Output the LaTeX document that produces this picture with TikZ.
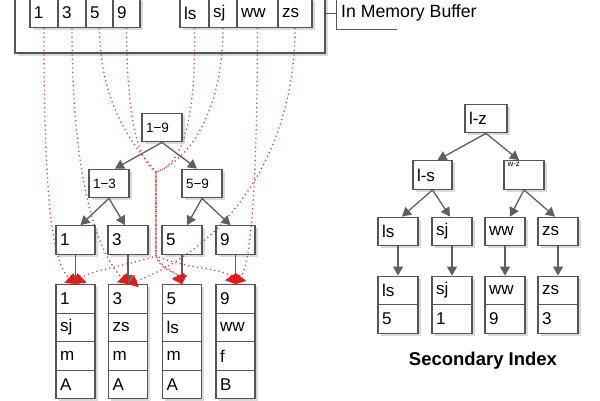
\documentclass[tikz,border=0pt]{standalone}
\usepackage{fontspec}
\setmainfont{Liberation Sans}
\usetikzlibrary{arrows.meta,shadows}
\definecolor{boxc}{HTML}{555555}
\definecolor{arrc}{HTML}{5F5F5F}
\definecolor{dotc}{HTML}{DD3C3C}
\definecolor{redhead}{HTML}{EE1515}
\begin{document}
\begin{tikzpicture}[x=1pt,y=-1pt,
  shad/.style={drop shadow={shadow xshift=2.5pt,shadow yshift=-2.5pt,fill=black!15,opacity=1}},
  box/.style={draw=boxc, line width=1.3pt, fill=white, shad, inner xsep=4pt, inner ysep=0pt,
    align=left, minimum height=28.5pt, font=\fontsize{17}{18}\selectfont, text width=#1},
  box/.default=31pt,
  small/.style={font=\fontsize{13.5}{14}\selectfont},
  arr/.style={draw=arrc, line width=1.3pt, -{Triangle[length=9pt,width=10pt]}},
  dotl/.style={draw=dotc, line width=1.3pt, dash pattern=on 1.2pt off 3.2pt,
    -{Triangle[length=9pt,width=13pt,color=redhead]}},
  callout/.style={draw=boxc, line width=1pt},
]
\useasboundingbox (0,0) rectangle (600,400);
\clip (0,0) rectangle (600,400);

% ---------- In memory buffer ----------
\node[draw=boxc, line width=1.3pt, fill=white, shad, minimum width=310pt, minimum height=58pt, inner sep=0pt] (buf) at (170,24) {};
\begin{scope}[every node/.append style={minimum height=30pt, font=\fontsize{16.5}{18}\selectfont}]
\node[box=20pt] (b1) at (44,13) {1};
\node[box=20pt] (b3) at (72,13) {3};
\node[box=19pt] (b5) at (99.5,13) {5};
\node[box=19pt] (b9) at (126.5,13) {9};
\node[box=21pt] (bls) at (194.5,13) {ls};
\node[box=20pt] (bsj) at (223,13) {sj};
\node[box=33pt] (bww) at (257.5,13) {ww};
\node[box=26pt] (bzs) at (295,13) {zs};
\end{scope}

\coordinate (cmid) at (336,13);
\coordinate (ctop) at (336,-5);
\coordinate (cbot) at (336,29);
\coordinate (cend) at (397,29);
\draw[callout] (buf.east |- cmid) -- (cmid);
\draw[callout] (ctop) -- (cbot) -- (cend);
\node[anchor=west, inner sep=0pt, font=\fontsize{17.7}{20}\selectfont] (mlab) at (341,13) {In Memory Buffer};

% ---------- Left tree ----------
\node[box=32pt, small] (t19) at (162,127.5) {1−9};
\node[box=32pt, small] (t13) at (109,183.5) {1−3};
\node[box=32pt, small] (t59) at (202,183.5) {5−9};
\node[box=31pt] (l1) at (75.5,240) {1};
\node[box=32pt] (l3) at (128,240) {3};
\node[box=32pt] (l5) at (182,240) {5};
\node[box=31pt] (l9) at (235.5,240) {9};

% records
\foreach \n/\x/\a/\b/\c/\d in {1/75.5/1/sj/m/A, 3/128/3/zs/m/A, 5/182/5/ls/m/A, 9/235.5/9/ww/f/B}{
  \node[box=31pt] (r\n a) at (\x,299) {\a};
  \node[box=31pt] (r\n b) at (\x,327.5) {\b};
  \node[box=31pt] (r\n c) at (\x,356) {\c};
  \node[box=31pt] (r\n d) at (\x,384.5) {\d};
}

\draw[arr] (t19.south) -- ([xshift=6pt]t13.north);
\draw[arr] (t19.south) -- ([xshift=-5pt]t59.north);
\draw[arr] (t13.south) -- ([xshift=5pt]l1.north);
\draw[arr] (t13.south) -- ([xshift=-3pt]l3.north);
\draw[arr] (t59.south) -- ([xshift=5pt]l5.north);
\draw[arr] (t59.south) -- ([xshift=-5pt]l9.north);
\draw[arr] (l1.south) -- (r1a.north);
\draw[arr] (l3.south) -- (r3a.north);
\draw[arr] (l5.south) -- (r5a.north);
\draw[arr] (l9.south) -- (r9a.north);

% ---------- dotted mapping ----------
\coordinate (jn) at (156,172);
\coordinate (jb) at (156,256);
\draw[dotl] (b1.south) .. controls (44,200) and (52,262) .. (r1a.north);
\draw[dotl] (b3.south) .. controls (72,190) and (100,255) .. (r3a.north);
\draw[dotl] (b5.south) .. controls (100,110) and (138,150) .. (jn) -- (jb) .. controls (160,270) and (176,272) .. (r5a.north);
\draw[dotl] (b9.south) .. controls (127,120) and (138,160) .. (jn) -- (jb) .. controls (190,270) and (225,268) .. (r9a.north);
\draw[dotl] (bls.south) .. controls (196,115) and (184,165) .. (jn) -- (jb) .. controls (162,268) and (178,274) .. (r5a.north);
\draw[dotl] (bsj.south) .. controls (223,110) and (190,160) .. (jn) -- (jb) .. controls (130,265) and (90,270) .. (r1a.north);
\draw[dotl] (bww.south) .. controls (257,200) and (250,265) .. (r9a.north);
\draw[dotl] (bzs.south) .. controls (295,160) and (220,250) .. (r3a.north);

% ---------- Secondary index ----------
\node[box=34pt] (lz) at (486,118.5) {l-z};
\node[box=31pt] (ls2) at (432.5,175) {l-s};
\node[box=32pt, label={[anchor=north west, inner sep=0pt, font=\fontsize{8}{8}\selectfont]north west:{\hspace*{4pt}\raisebox{-6pt}{w-z}}}] (wz) at (524,175) {};
\node[box=32pt] (sl1) at (398,231.5) {ls};
\node[box=32pt] (sl2) at (452,231.5) {sj};
\node[box=32pt] (sl3) at (505,231.5) {ww};
\node[box=32pt] (sl4) at (558,231.5) {zs};
\foreach \n/\x/\a/\b in {1/398/ls/5, 2/452/sj/1, 3/505/ww/9, 4/558/zs/3}{
  \node[box=32pt] (s\n a) at (\x,290.5) {\a};
  \node[box=32pt] (s\n b) at (\x,319) {\b};
}
\draw[arr] (lz.south) -- ([xshift=5pt]ls2.north);
\draw[arr] (lz.south) -- ([xshift=-5pt]wz.north);
\draw[arr] (ls2.south) -- ([xshift=4pt]sl1.north);
\draw[arr] (ls2.south) -- ([xshift=-2pt]sl2.north);
\draw[arr] (wz.south) -- ([xshift=5pt]sl3.north);
\draw[arr] (wz.south) -- ([xshift=-3pt]sl4.north);
\foreach \n in {1,2,3,4}{ \draw[arr] (sl\n.south) -- (s\n a.north); }

\node[font=\bfseries\fontsize{18.5}{20}\selectfont] (sec) at (483,361) {Secondary Index};
\end{tikzpicture}
\end{document}
